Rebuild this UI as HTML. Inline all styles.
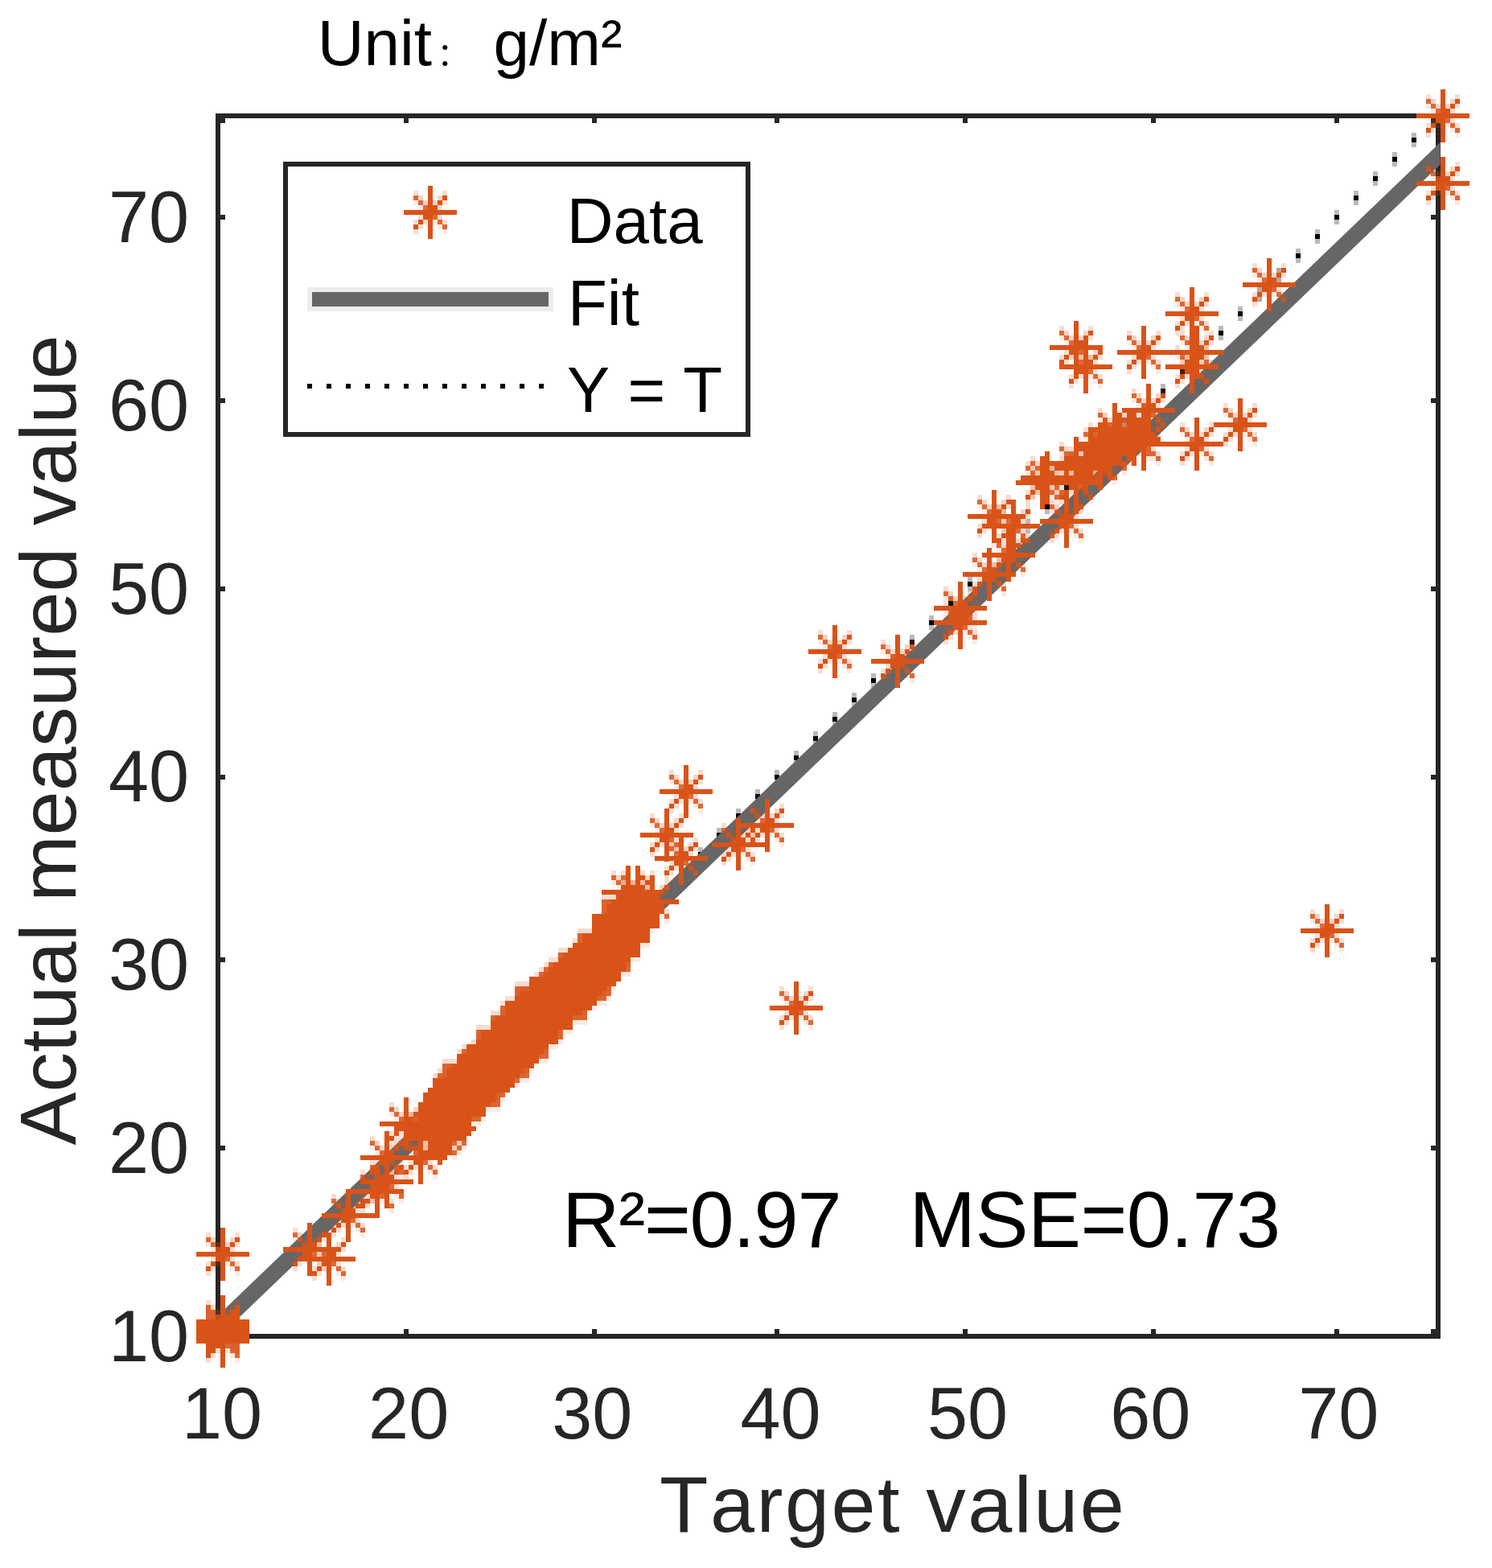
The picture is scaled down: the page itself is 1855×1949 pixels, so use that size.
<!DOCTYPE html>
<html lang="en"><head><meta charset="utf-8"><title>Regression plot</title>
<style>
html,body{margin:0;padding:0;background:#fff;}
body{width:1855px;height:1949px;overflow:hidden;}
svg{display:block;}
text{font-family:"Liberation Sans","Noto Sans CJK SC",sans-serif;white-space:pre;font-kerning:none;}
.tk{font-size:90px;fill:#262626;}
.lb{font-size:99px;fill:#262626;}
.an{font-size:99px;fill:#000;}
.lg{font-size:80px;fill:#000;}
</style></head><body>
<svg width="1855" height="1949" viewBox="0 0 1855 1949">
<rect width="1855" height="1949" fill="#fff"/>
<defs><g id="m" fill="#D95319" shape-rendering="crispEdges"><rect x="-32.97" y="-3.00" width="65.95" height="6.00"/><rect x="-3.00" y="-32.97" width="6.00" height="65.95"/><rect x="-8.99" y="-8.99" width="6.00" height="6.00" opacity="0.88"/><rect x="-8.99" y="3.00" width="6.00" height="6.00" opacity="1"/><rect x="3.00" y="-8.99" width="6.00" height="6.00" opacity="1"/><rect x="3.00" y="3.00" width="6.00" height="6.00" opacity="0.88"/><rect x="-14.99" y="-14.99" width="6.00" height="6.00" opacity="0.88"/><rect x="-14.99" y="8.99" width="6.00" height="6.00" opacity="1"/><rect x="8.99" y="-14.99" width="6.00" height="6.00" opacity="1"/><rect x="8.99" y="8.99" width="6.00" height="6.00" opacity="0.88"/><rect x="-20.98" y="-20.98" width="6.00" height="6.00" opacity="0.88"/><rect x="-20.98" y="14.99" width="6.00" height="6.00" opacity="1"/><rect x="14.99" y="-20.98" width="6.00" height="6.00" opacity="1"/><rect x="14.99" y="14.99" width="6.00" height="6.00" opacity="0.88"/><rect x="-20.98" y="-26.98" width="6.00" height="6.00" opacity="0.2"/><rect x="14.99" y="-26.98" width="6.00" height="6.00" opacity="0.2"/><rect x="-14.99" y="-20.98" width="6.00" height="6.00" opacity="0.25"/><rect x="8.99" y="-20.98" width="6.00" height="6.00" opacity="0.25"/><rect x="-20.98" y="-14.99" width="6.00" height="6.00" opacity="0.12"/><rect x="-8.99" y="-14.99" width="6.00" height="6.00" opacity="0.25"/><rect x="3.00" y="-14.99" width="6.00" height="6.00" opacity="0.25"/><rect x="14.99" y="-14.99" width="6.00" height="6.00" opacity="0.2"/><rect x="-14.99" y="-8.99" width="6.00" height="6.00" opacity="0.12"/><rect x="8.99" y="-8.99" width="6.00" height="6.00" opacity="0.2"/><rect x="-14.99" y="3.00" width="6.00" height="6.00" opacity="0.2"/><rect x="8.99" y="3.00" width="6.00" height="6.00" opacity="0.2"/><rect x="-20.98" y="8.99" width="6.00" height="6.00" opacity="0.2"/><rect x="-8.99" y="8.99" width="6.00" height="6.00" opacity="0.2"/><rect x="3.00" y="8.99" width="6.00" height="6.00" opacity="0.12"/><rect x="14.99" y="8.99" width="6.00" height="6.00" opacity="0.2"/><rect x="-14.99" y="14.99" width="6.00" height="6.00" opacity="0.2"/><rect x="8.99" y="14.99" width="6.00" height="6.00" opacity="0.12"/><rect x="-20.98" y="20.98" width="6.00" height="6.00" opacity="0.2"/><rect x="14.99" y="20.98" width="6.00" height="6.00" opacity="0.12"/></g></defs>
<g id="yt" fill="#000" shape-rendering="crispEdges">
<rect x="1754.77" y="165.25" width="6.00" height="17.98" opacity="0.27"/><rect x="1754.77" y="171.24" width="6.00" height="6.00"/><rect x="1730.79" y="189.23" width="6.00" height="17.98" opacity="0.27"/><rect x="1730.79" y="195.22" width="6.00" height="6.00"/><rect x="1706.81" y="213.21" width="6.00" height="17.98" opacity="0.27"/><rect x="1706.81" y="219.20" width="6.00" height="6.00"/><rect x="1682.83" y="237.19" width="6.00" height="17.98" opacity="0.27"/><rect x="1682.83" y="243.18" width="6.00" height="6.00"/><rect x="1658.85" y="261.17" width="6.00" height="17.98" opacity="0.27"/><rect x="1658.85" y="267.16" width="6.00" height="6.00"/><rect x="1634.87" y="285.15" width="6.00" height="17.98" opacity="0.27"/><rect x="1634.87" y="291.14" width="6.00" height="6.00"/><rect x="1610.89" y="309.13" width="6.00" height="17.98" opacity="0.27"/><rect x="1610.89" y="315.12" width="6.00" height="6.00"/><rect x="1586.91" y="333.11" width="6.00" height="17.98" opacity="0.27"/><rect x="1586.91" y="339.10" width="6.00" height="6.00"/><rect x="1562.93" y="357.09" width="6.00" height="17.98" opacity="0.27"/><rect x="1562.93" y="363.08" width="6.00" height="6.00"/><rect x="1538.95" y="381.07" width="6.00" height="17.98" opacity="0.27"/><rect x="1538.95" y="387.06" width="6.00" height="6.00"/><rect x="1514.97" y="405.05" width="6.00" height="17.98" opacity="0.27"/><rect x="1514.97" y="411.04" width="6.00" height="6.00"/><rect x="1490.99" y="429.03" width="6.00" height="17.98" opacity="0.27"/><rect x="1490.99" y="435.02" width="6.00" height="6.00"/><rect x="1467.01" y="453.01" width="6.00" height="17.98" opacity="0.27"/><rect x="1467.01" y="459.00" width="6.00" height="6.00"/><rect x="1443.03" y="476.99" width="6.00" height="17.98" opacity="0.27"/><rect x="1443.03" y="482.98" width="6.00" height="6.00"/><rect x="1419.05" y="500.97" width="6.00" height="17.98" opacity="0.27"/><rect x="1419.05" y="506.96" width="6.00" height="6.00"/><rect x="1395.07" y="524.95" width="6.00" height="17.98" opacity="0.27"/><rect x="1395.07" y="530.94" width="6.00" height="6.00"/><rect x="1371.09" y="548.93" width="6.00" height="17.98" opacity="0.27"/><rect x="1371.09" y="554.92" width="6.00" height="6.00"/><rect x="1347.11" y="572.91" width="6.00" height="17.98" opacity="0.27"/><rect x="1347.11" y="578.90" width="6.00" height="6.00"/><rect x="1323.13" y="596.89" width="6.00" height="17.98" opacity="0.27"/><rect x="1323.13" y="602.88" width="6.00" height="6.00"/><rect x="1299.15" y="620.87" width="6.00" height="17.98" opacity="0.27"/><rect x="1299.15" y="626.86" width="6.00" height="6.00"/><rect x="1275.17" y="644.85" width="6.00" height="17.98" opacity="0.27"/><rect x="1275.17" y="650.84" width="6.00" height="6.00"/><rect x="1251.19" y="668.83" width="6.00" height="17.98" opacity="0.27"/><rect x="1251.19" y="674.82" width="6.00" height="6.00"/><rect x="1227.21" y="692.81" width="6.00" height="17.98" opacity="0.27"/><rect x="1227.21" y="698.80" width="6.00" height="6.00"/><rect x="1203.23" y="716.79" width="6.00" height="17.98" opacity="0.27"/><rect x="1203.23" y="722.78" width="6.00" height="6.00"/><rect x="1179.25" y="740.77" width="6.00" height="17.98" opacity="0.27"/><rect x="1179.25" y="746.76" width="6.00" height="6.00"/><rect x="1155.27" y="764.75" width="6.00" height="17.98" opacity="0.27"/><rect x="1155.27" y="770.74" width="6.00" height="6.00"/><rect x="1131.29" y="788.73" width="6.00" height="17.98" opacity="0.27"/><rect x="1131.29" y="794.72" width="6.00" height="6.00"/><rect x="1107.31" y="812.71" width="6.00" height="17.98" opacity="0.27"/><rect x="1107.31" y="818.70" width="6.00" height="6.00"/><rect x="1083.33" y="836.69" width="6.00" height="17.98" opacity="0.27"/><rect x="1083.33" y="842.68" width="6.00" height="6.00"/><rect x="1059.35" y="860.67" width="6.00" height="17.98" opacity="0.27"/><rect x="1059.35" y="866.66" width="6.00" height="6.00"/><rect x="1035.37" y="884.65" width="6.00" height="17.98" opacity="0.27"/><rect x="1035.37" y="890.64" width="6.00" height="6.00"/><rect x="1011.39" y="908.63" width="6.00" height="17.98" opacity="0.27"/><rect x="1011.39" y="914.62" width="6.00" height="6.00"/><rect x="987.41" y="932.61" width="6.00" height="17.98" opacity="0.27"/><rect x="987.41" y="938.60" width="6.00" height="6.00"/><rect x="963.43" y="956.59" width="6.00" height="17.98" opacity="0.27"/><rect x="963.43" y="962.58" width="6.00" height="6.00"/><rect x="939.45" y="980.57" width="6.00" height="17.98" opacity="0.27"/><rect x="939.45" y="986.56" width="6.00" height="6.00"/><rect x="915.47" y="1004.55" width="6.00" height="17.98" opacity="0.27"/><rect x="915.47" y="1010.54" width="6.00" height="6.00"/><rect x="891.49" y="1028.53" width="6.00" height="17.98" opacity="0.27"/><rect x="891.49" y="1034.52" width="6.00" height="6.00"/><rect x="867.51" y="1052.51" width="6.00" height="17.98" opacity="0.27"/><rect x="867.51" y="1058.50" width="6.00" height="6.00"/>
</g>
<g id="axes" fill="#262626" shape-rendering="crispEdges">
<rect x="268.01" y="141.27" width="1522.73" height="6.00"/>
<rect x="268.01" y="1658.00" width="1522.73" height="6.00"/>
<rect x="268.01" y="141.27" width="6.00" height="1522.73"/>
<rect x="1784.74" y="141.27" width="6.00" height="1522.73"/>
<rect x="268.01" y="1652.01" width="6.00" height="6.00"/>
<rect x="268.01" y="147.26" width="6.00" height="6.00"/>
<rect x="501.81" y="1652.01" width="6.00" height="6.00"/>
<rect x="501.81" y="147.26" width="6.00" height="6.00"/>
<rect x="735.62" y="1652.01" width="6.00" height="6.00"/>
<rect x="735.62" y="147.26" width="6.00" height="6.00"/>
<rect x="963.43" y="1652.01" width="6.00" height="6.00"/>
<rect x="963.43" y="147.26" width="6.00" height="6.00"/>
<rect x="1197.23" y="1652.01" width="6.00" height="6.00"/>
<rect x="1197.23" y="147.26" width="6.00" height="6.00"/>
<rect x="1431.04" y="1652.01" width="6.00" height="6.00"/>
<rect x="1431.04" y="147.26" width="6.00" height="6.00"/>
<rect x="1658.85" y="1652.01" width="6.00" height="6.00"/>
<rect x="1658.85" y="147.26" width="6.00" height="6.00"/>
<rect x="274.00" y="1658.00" width="6.00" height="6.00"/>
<rect x="1778.75" y="1658.00" width="6.00" height="6.00"/>
<rect x="274.00" y="1424.20" width="6.00" height="6.00"/>
<rect x="1778.75" y="1424.20" width="6.00" height="6.00"/>
<rect x="274.00" y="1190.39" width="6.00" height="6.00"/>
<rect x="1778.75" y="1190.39" width="6.00" height="6.00"/>
<rect x="274.00" y="962.58" width="6.00" height="6.00"/>
<rect x="1778.75" y="962.58" width="6.00" height="6.00"/>
<rect x="274.00" y="728.78" width="6.00" height="6.00"/>
<rect x="1778.75" y="728.78" width="6.00" height="6.00"/>
<rect x="274.00" y="494.97" width="6.00" height="6.00"/>
<rect x="1778.75" y="494.97" width="6.00" height="6.00"/>
<rect x="274.00" y="267.16" width="6.00" height="6.00"/>
<rect x="1778.75" y="267.16" width="6.00" height="6.00"/>
<rect x="274.00" y="147.26" width="6.00" height="6.00"/>
<rect x="1778.75" y="147.26" width="6.00" height="6.00"/>
<rect x="274.00" y="1652.01" width="6.00" height="6.00"/>
<rect x="1778.75" y="1652.01" width="6.00" height="6.00"/>
</g>
<clipPath id="pc"><rect x="274" y="141" width="1516.6" height="1523"/></clipPath>
<line id="fit" clip-path="url(#pc)" x1="260.0" y1="1659.6" x2="1810.0" y2="172.2" stroke="#666666" stroke-width="20"/>
<g id="data">
<use href="#m" x="1793.74" y="144.26"/><use href="#m" x="1793.74" y="228.19"/><use href="#m" x="1577.91" y="354.09"/><use href="#m" x="1482.00" y="390.06"/><use href="#m" x="1338.12" y="432.03"/><use href="#m" x="1422.05" y="438.02"/><use href="#m" x="1487.99" y="438.02"/><use href="#m" x="1350.11" y="456.00"/><use href="#m" x="1482.00" y="456.00"/><use href="#m" x="1428.04" y="509.96"/><use href="#m" x="1541.94" y="527.94"/><use href="#m" x="1386.08" y="533.94"/><use href="#m" x="1404.06" y="539.93"/><use href="#m" x="1392.07" y="545.93"/><use href="#m" x="1410.06" y="545.93"/><use href="#m" x="1374.09" y="551.92"/><use href="#m" x="1422.05" y="551.92"/><use href="#m" x="1487.99" y="551.92"/><use href="#m" x="1368.09" y="557.92"/><use href="#m" x="1380.08" y="563.91"/><use href="#m" x="1356.10" y="569.91"/><use href="#m" x="1338.12" y="575.90"/><use href="#m" x="1368.09" y="575.90"/><use href="#m" x="1350.11" y="581.90"/><use href="#m" x="1302.14" y="593.89"/><use href="#m" x="1296.15" y="599.88"/><use href="#m" x="1338.12" y="599.88"/><use href="#m" x="1236.20" y="641.85"/><use href="#m" x="1326.12" y="647.85"/><use href="#m" x="1260.18" y="653.84"/><use href="#m" x="1254.18" y="689.81"/><use href="#m" x="1230.20" y="713.79"/><use href="#m" x="1194.24" y="755.75"/><use href="#m" x="1194.24" y="773.74"/><use href="#m" x="1038.37" y="809.71"/><use href="#m" x="1116.30" y="821.70"/><use href="#m" x="852.52" y="983.56"/><use href="#m" x="954.44" y="1025.53"/><use href="#m" x="828.54" y="1037.52"/><use href="#m" x="918.47" y="1049.51"/><use href="#m" x="846.52" y="1067.49"/><use href="#m" x="780.58" y="1109.46"/><use href="#m" x="792.57" y="1109.46"/><use href="#m" x="792.57" y="1121.45"/><use href="#m" x="810.56" y="1121.45"/><use href="#m" x="792.57" y="1127.44"/><use href="#m" x="792.57" y="1133.44"/><use href="#m" x="768.59" y="1139.43"/><use href="#m" x="774.59" y="1139.43"/><use href="#m" x="780.58" y="1139.43"/><use href="#m" x="786.58" y="1139.43"/><use href="#m" x="768.59" y="1145.43"/><use href="#m" x="774.59" y="1145.43"/><use href="#m" x="780.58" y="1145.43"/><use href="#m" x="786.58" y="1145.43"/><use href="#m" x="768.59" y="1151.42"/><use href="#m" x="774.59" y="1151.42"/><use href="#m" x="780.58" y="1151.42"/><use href="#m" x="786.58" y="1151.42"/><use href="#m" x="768.59" y="1157.42"/><use href="#m" x="774.59" y="1157.42"/><use href="#m" x="1649.86" y="1157.42"/><use href="#m" x="756.60" y="1163.41"/><use href="#m" x="762.60" y="1163.41"/><use href="#m" x="768.59" y="1163.41"/><use href="#m" x="774.59" y="1163.41"/><use href="#m" x="756.60" y="1169.41"/><use href="#m" x="762.60" y="1169.41"/><use href="#m" x="768.59" y="1169.41"/><use href="#m" x="774.59" y="1169.41"/><use href="#m" x="756.60" y="1175.40"/><use href="#m" x="762.60" y="1175.40"/><use href="#m" x="738.62" y="1181.40"/><use href="#m" x="744.61" y="1181.40"/><use href="#m" x="750.61" y="1181.40"/><use href="#m" x="756.60" y="1181.40"/><use href="#m" x="762.60" y="1181.40"/><use href="#m" x="738.62" y="1187.39"/><use href="#m" x="744.61" y="1187.39"/><use href="#m" x="750.61" y="1187.39"/><use href="#m" x="756.60" y="1187.39"/><use href="#m" x="762.60" y="1187.39"/><use href="#m" x="732.62" y="1193.39"/><use href="#m" x="738.62" y="1193.39"/><use href="#m" x="744.61" y="1193.39"/><use href="#m" x="750.61" y="1193.39"/><use href="#m" x="732.62" y="1199.38"/><use href="#m" x="738.62" y="1199.38"/><use href="#m" x="744.61" y="1199.38"/><use href="#m" x="714.63" y="1205.38"/><use href="#m" x="720.63" y="1205.38"/><use href="#m" x="726.62" y="1205.38"/><use href="#m" x="732.62" y="1205.38"/><use href="#m" x="738.62" y="1205.38"/><use href="#m" x="744.61" y="1205.38"/><use href="#m" x="714.63" y="1211.38"/><use href="#m" x="720.63" y="1211.38"/><use href="#m" x="726.62" y="1211.38"/><use href="#m" x="732.62" y="1211.38"/><use href="#m" x="738.62" y="1211.38"/><use href="#m" x="702.64" y="1217.37"/><use href="#m" x="708.64" y="1217.37"/><use href="#m" x="714.63" y="1217.37"/><use href="#m" x="720.63" y="1217.37"/><use href="#m" x="726.62" y="1217.37"/><use href="#m" x="732.62" y="1217.37"/><use href="#m" x="738.62" y="1217.37"/><use href="#m" x="696.65" y="1223.37"/><use href="#m" x="702.64" y="1223.37"/><use href="#m" x="708.64" y="1223.37"/><use href="#m" x="714.63" y="1223.37"/><use href="#m" x="720.63" y="1223.37"/><use href="#m" x="726.62" y="1223.37"/><use href="#m" x="732.62" y="1223.37"/><use href="#m" x="690.65" y="1229.36"/><use href="#m" x="696.65" y="1229.36"/><use href="#m" x="702.64" y="1229.36"/><use href="#m" x="708.64" y="1229.36"/><use href="#m" x="714.63" y="1229.36"/><use href="#m" x="720.63" y="1229.36"/><use href="#m" x="684.66" y="1235.36"/><use href="#m" x="690.65" y="1235.36"/><use href="#m" x="696.65" y="1235.36"/><use href="#m" x="702.64" y="1235.36"/><use href="#m" x="708.64" y="1235.36"/><use href="#m" x="678.66" y="1241.35"/><use href="#m" x="684.66" y="1241.35"/><use href="#m" x="690.65" y="1241.35"/><use href="#m" x="696.65" y="1241.35"/><use href="#m" x="702.64" y="1241.35"/><use href="#m" x="708.64" y="1241.35"/><use href="#m" x="660.68" y="1247.35"/><use href="#m" x="666.67" y="1247.35"/><use href="#m" x="672.67" y="1247.35"/><use href="#m" x="678.66" y="1247.35"/><use href="#m" x="684.66" y="1247.35"/><use href="#m" x="690.65" y="1247.35"/><use href="#m" x="696.65" y="1247.35"/><use href="#m" x="702.64" y="1247.35"/><use href="#m" x="708.64" y="1247.35"/><use href="#m" x="660.68" y="1253.34"/><use href="#m" x="666.67" y="1253.34"/><use href="#m" x="672.67" y="1253.34"/><use href="#m" x="678.66" y="1253.34"/><use href="#m" x="684.66" y="1253.34"/><use href="#m" x="690.65" y="1253.34"/><use href="#m" x="990.40" y="1253.34"/><use href="#m" x="660.68" y="1259.34"/><use href="#m" x="666.67" y="1259.34"/><use href="#m" x="672.67" y="1259.34"/><use href="#m" x="678.66" y="1259.34"/><use href="#m" x="684.66" y="1259.34"/><use href="#m" x="690.65" y="1259.34"/><use href="#m" x="648.69" y="1265.33"/><use href="#m" x="654.68" y="1265.33"/><use href="#m" x="660.68" y="1265.33"/><use href="#m" x="666.67" y="1265.33"/><use href="#m" x="672.67" y="1265.33"/><use href="#m" x="678.66" y="1265.33"/><use href="#m" x="642.69" y="1271.33"/><use href="#m" x="648.69" y="1271.33"/><use href="#m" x="654.68" y="1271.33"/><use href="#m" x="660.68" y="1271.33"/><use href="#m" x="666.67" y="1271.33"/><use href="#m" x="672.67" y="1271.33"/><use href="#m" x="678.66" y="1271.33"/><use href="#m" x="642.69" y="1277.32"/><use href="#m" x="648.69" y="1277.32"/><use href="#m" x="654.68" y="1277.32"/><use href="#m" x="660.68" y="1277.32"/><use href="#m" x="666.67" y="1277.32"/><use href="#m" x="672.67" y="1277.32"/><use href="#m" x="630.70" y="1283.32"/><use href="#m" x="636.70" y="1283.32"/><use href="#m" x="642.69" y="1283.32"/><use href="#m" x="648.69" y="1283.32"/><use href="#m" x="654.68" y="1283.32"/><use href="#m" x="660.68" y="1283.32"/><use href="#m" x="630.70" y="1289.31"/><use href="#m" x="636.70" y="1289.31"/><use href="#m" x="642.69" y="1289.31"/><use href="#m" x="648.69" y="1289.31"/><use href="#m" x="654.68" y="1289.31"/><use href="#m" x="660.68" y="1289.31"/><use href="#m" x="630.70" y="1295.31"/><use href="#m" x="636.70" y="1295.31"/><use href="#m" x="642.69" y="1295.31"/><use href="#m" x="648.69" y="1295.31"/><use href="#m" x="654.68" y="1295.31"/><use href="#m" x="660.68" y="1295.31"/><use href="#m" x="612.72" y="1301.30"/><use href="#m" x="618.72" y="1301.30"/><use href="#m" x="624.71" y="1301.30"/><use href="#m" x="630.70" y="1301.30"/><use href="#m" x="636.70" y="1301.30"/><use href="#m" x="642.69" y="1301.30"/><use href="#m" x="612.72" y="1307.30"/><use href="#m" x="618.72" y="1307.30"/><use href="#m" x="624.71" y="1307.30"/><use href="#m" x="630.70" y="1307.30"/><use href="#m" x="636.70" y="1307.30"/><use href="#m" x="642.69" y="1307.30"/><use href="#m" x="612.72" y="1313.29"/><use href="#m" x="618.72" y="1313.29"/><use href="#m" x="624.71" y="1313.29"/><use href="#m" x="630.70" y="1313.29"/><use href="#m" x="636.70" y="1313.29"/><use href="#m" x="606.73" y="1319.28"/><use href="#m" x="612.72" y="1319.28"/><use href="#m" x="618.72" y="1319.28"/><use href="#m" x="624.71" y="1319.28"/><use href="#m" x="630.70" y="1319.28"/><use href="#m" x="636.70" y="1319.28"/><use href="#m" x="594.74" y="1325.28"/><use href="#m" x="600.73" y="1325.28"/><use href="#m" x="606.73" y="1325.28"/><use href="#m" x="612.72" y="1325.28"/><use href="#m" x="618.72" y="1325.28"/><use href="#m" x="624.71" y="1325.28"/><use href="#m" x="588.74" y="1331.28"/><use href="#m" x="594.74" y="1331.28"/><use href="#m" x="600.73" y="1331.28"/><use href="#m" x="606.73" y="1331.28"/><use href="#m" x="588.74" y="1337.27"/><use href="#m" x="594.74" y="1337.27"/><use href="#m" x="600.73" y="1337.27"/><use href="#m" x="606.73" y="1337.27"/><use href="#m" x="570.75" y="1343.26"/><use href="#m" x="576.75" y="1343.26"/><use href="#m" x="582.75" y="1343.26"/><use href="#m" x="588.74" y="1343.26"/><use href="#m" x="594.74" y="1343.26"/><use href="#m" x="600.73" y="1343.26"/><use href="#m" x="606.73" y="1343.26"/><use href="#m" x="570.75" y="1349.26"/><use href="#m" x="576.75" y="1349.26"/><use href="#m" x="582.75" y="1349.26"/><use href="#m" x="588.74" y="1349.26"/><use href="#m" x="594.74" y="1349.26"/><use href="#m" x="600.73" y="1349.26"/><use href="#m" x="564.76" y="1355.26"/><use href="#m" x="570.75" y="1355.26"/><use href="#m" x="576.75" y="1355.26"/><use href="#m" x="582.75" y="1355.26"/><use href="#m" x="588.74" y="1355.26"/><use href="#m" x="594.74" y="1355.26"/><use href="#m" x="600.73" y="1355.26"/><use href="#m" x="558.76" y="1361.25"/><use href="#m" x="564.76" y="1361.25"/><use href="#m" x="570.75" y="1361.25"/><use href="#m" x="576.75" y="1361.25"/><use href="#m" x="582.75" y="1361.25"/><use href="#m" x="558.76" y="1367.24"/><use href="#m" x="564.76" y="1367.24"/><use href="#m" x="570.75" y="1367.24"/><use href="#m" x="576.75" y="1367.24"/><use href="#m" x="582.75" y="1367.24"/><use href="#m" x="558.76" y="1373.24"/><use href="#m" x="564.76" y="1373.24"/><use href="#m" x="570.75" y="1373.24"/><use href="#m" x="576.75" y="1373.24"/><use href="#m" x="552.77" y="1379.24"/><use href="#m" x="558.76" y="1379.24"/><use href="#m" x="564.76" y="1379.24"/><use href="#m" x="552.77" y="1385.23"/><use href="#m" x="558.76" y="1385.23"/><use href="#m" x="564.76" y="1385.23"/><use href="#m" x="552.77" y="1391.22"/><use href="#m" x="504.81" y="1397.22"/><use href="#m" x="522.80" y="1403.21"/><use href="#m" x="540.78" y="1403.21"/><use href="#m" x="558.76" y="1403.21"/><use href="#m" x="534.79" y="1409.21"/><use href="#m" x="552.77" y="1409.21"/><use href="#m" x="546.77" y="1415.20"/><use href="#m" x="480.83" y="1439.18"/><use href="#m" x="522.80" y="1439.18"/><use href="#m" x="480.83" y="1469.16"/><use href="#m" x="468.84" y="1481.15"/><use href="#m" x="432.87" y="1511.12"/><use href="#m" x="384.91" y="1553.09"/><use href="#m" x="277.00" y="1559.09"/><use href="#m" x="408.89" y="1565.08"/><use href="#m" x="277.00" y="1643.02"/><use href="#m" x="277.00" y="1649.01"/><use href="#m" x="277.00" y="1655.01"/><use href="#m" x="277.00" y="1661.00"/><use href="#m" x="277.00" y="1666.99"/>
</g>
<g id="legend">
<rect x="354.94" y="204.21" width="575.52" height="335.72" fill="#fff"/>
<g fill="#262626" shape-rendering="crispEdges">
<rect x="351.94" y="201.22" width="581.51" height="6.00"/>
<rect x="351.94" y="536.94" width="581.51" height="6.00"/>
<rect x="351.94" y="201.22" width="6.00" height="341.72"/>
<rect x="927.46" y="201.22" width="6.00" height="341.72"/>
</g>
<use href="#m" x="534.79" y="264.16"/>
<g fill="#666666" shape-rendering="crispEdges">
<rect x="381.91" y="357.09" width="305.75" height="29.98" opacity="0.12"/>
<rect x="387.91" y="363.08" width="293.75" height="17.98"/>
</g>
<g fill="#000" shape-rendering="crispEdges">
<rect x="381.91" y="476.99" width="6.00" height="6.00"/>
<rect x="405.89" y="476.99" width="6.00" height="6.00"/>
<rect x="429.87" y="476.99" width="6.00" height="6.00"/>
<rect x="453.85" y="476.99" width="6.00" height="6.00"/>
<rect x="477.83" y="476.99" width="6.00" height="6.00"/>
<rect x="501.81" y="476.99" width="6.00" height="6.00"/>
<rect x="525.79" y="476.99" width="6.00" height="6.00"/>
<rect x="549.77" y="476.99" width="6.00" height="6.00"/>
<rect x="573.75" y="476.99" width="6.00" height="6.00"/>
<rect x="597.73" y="476.99" width="6.00" height="6.00"/>
<rect x="621.71" y="476.99" width="6.00" height="6.00"/>
<rect x="645.69" y="476.99" width="6.00" height="6.00"/>
<rect x="669.67" y="476.99" width="6.00" height="6.00"/>
</g>
<text class="lg" x="704.7" y="301.5">Data</text>
<text class="lg" x="706" y="403.5">Fit</text>
<text class="lg" x="704.8" y="512">Y = T</text>
</g>
<text class="lg" y="80.5"><tspan x="394.8">Unit</tspan><tspan x="543.2" style="font-size:40px">：</tspan><tspan x="613.6">g/m²</tspan></text>
<text class="tk" x="226.0" y="1788.2">10</text>
<text class="tk" x="458.1" y="1788.2">20</text>
<text class="tk" x="686.2" y="1788.2">30</text>
<text class="tk" x="920.5" y="1788.2">40</text>
<text class="tk" x="1153.0" y="1788.2">50</text>
<text class="tk" x="1380.3" y="1788.2">60</text>
<text class="tk" x="1614.3" y="1788.2">70</text>
<text class="tk" x="135" y="1692.0">10</text>
<text class="tk" x="135" y="1458.0">20</text>
<text class="tk" x="135" y="1229.8">30</text>
<text class="tk" x="135" y="996.3">40</text>
<text class="tk" x="135" y="762.6">50</text>
<text class="tk" x="135" y="534.9">60</text>
<text class="tk" x="135" y="301.0">70</text>
<text class="lb" x="820" y="1903.5" style="letter-spacing:2.5px">Target value</text>
<text class="lb" transform="translate(93.8,1423.5) rotate(-90)" x="0" y="0">Actual measured value</text>
<text class="an" y="1550"><tspan x="699" style="letter-spacing:-1.25px">R²=0.97</tspan><tspan style="letter-spacing:-1.25px">   </tspan><tspan x="1130.5" style="letter-spacing:-0.5px">MSE=0.73</tspan></text>
</svg>
</body></html>
